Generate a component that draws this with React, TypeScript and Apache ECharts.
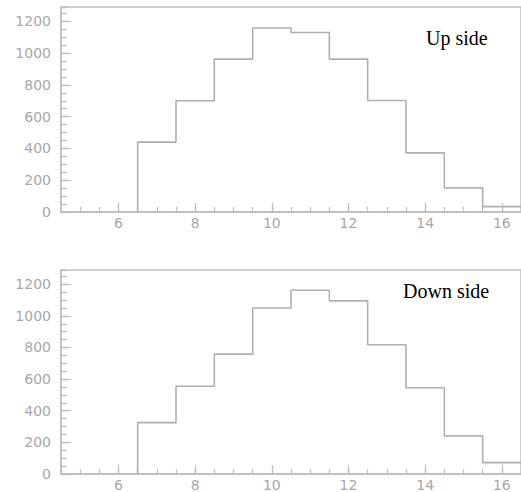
import React, { useEffect, useRef } from "react";
import * as echarts from "echarts";

const binCenters = [7, 8, 9, 10, 11, 12, 13, 14, 15, 16];
const upCounts = [440, 700, 962, 1158, 1130, 962, 702, 372, 152, 34];
const downCounts = [325, 555, 758, 1050, 1162, 1095, 817, 545, 241, 72];
const xTickLabels = [6, 8, 10, 12, 14, 16];
const yTickLabels = [0, 200, 400, 600, 800, 1000, 1200];
const panelTitles = ["Up side", "Down side"];

const AXIS = "#c0c0c0";
const LINE = "#b0b0b0";
const LABEL = "#a8a8a8";

function histPoints(counts: number[]) {
  const pts: number[][] = [[binCenters[0] - 0.5, 0]];
  counts.forEach((v, i) => pts.push([binCenters[i] - 0.5, v]));
  pts.push([binCenters[binCenters.length - 1] + 0.5, counts[counts.length - 1]]);
  return pts;
}

export default function App() {
  const ref = useRef<HTMLDivElement>(null);
  useEffect(() => {
    if (!ref.current) return;
    const chart = echarts.init(ref.current, null, { renderer: "svg" });
    const tops = [7, 270];
    const grids = tops.map((t) => ({
      left: 61,
      top: t,
      height: 205,
      right: -6,
      show: true,
      borderColor: AXIS,
      borderWidth: 1.5,
      backgroundColor: "transparent",
    }));
    const axisLine = { show: true, onZero: false, lineStyle: { color: AXIS, width: 1.5 } };
    const xAxes: any[] = [];
    const yAxes: any[] = [];
    [0, 1].forEach((g) => {
      xAxes.push({
        type: "value",
        gridIndex: g,
        position: "bottom",
        min: 4.5,
        max: 16.5,
        interval: 0.5,
        axisLine,
        splitLine: { show: false },
        axisTick: {
          show: true,
          inside: true,
          length: 9,
          lineStyle: { color: AXIS, width: 1.3 },
          customValues: xTickLabels,
        },
        axisLabel: {
          customValues: xTickLabels,
          formatter: (v: number) => String(v),
          color: LABEL,
          fontSize: 14,
          fontFamily: "DejaVu Sans",
          margin: 4,
        },
      });
      xAxes.push({
        type: "value",
        gridIndex: g,
        position: "bottom",
        min: 4.5,
        max: 16.5,
        interval: 0.5,
        axisLine,
        splitLine: { show: false },
        axisTick: { show: true, inside: true, length: 5, lineStyle: { color: AXIS, width: 1.3 } },
        axisLabel: { show: false },
      });
      yAxes.push({
        type: "value",
        gridIndex: g,
        position: "left",
        min: 0,
        max: 1290,
        interval: 200,
        axisLine,
        splitLine: { show: false },
        axisTick: {
          show: true,
          inside: true,
          length: 10,
          lineStyle: { color: AXIS, width: 1.3 },
          customValues: yTickLabels,
        },
        axisLabel: {
          customValues: yTickLabels,
          formatter: (v: number) => String(v),
          color: LABEL,
          fontSize: 14,
          fontFamily: "DejaVu Sans",
          margin: 10,
        },
      });
      yAxes.push({
        type: "value",
        gridIndex: g,
        position: "left",
        min: 0,
        max: 1290,
        interval: 50,
        axisLine,
        splitLine: { show: false },
        axisTick: { show: true, inside: true, length: 6, lineStyle: { color: AXIS, width: 1.3 } },
        axisLabel: { show: false },
      });
    });
    const series = [upCounts, downCounts].map((c, g) => ({
      type: "line",
      xAxisIndex: g * 2,
      yAxisIndex: g * 2,
      step: "end",
      symbol: "none",
      data: histPoints(c),
      lineStyle: { color: LINE, width: 1.6 },
      z: 3,
    }));
    chart.setOption({
      animation: false,
      backgroundColor: "#ffffff",
      grid: grids,
      xAxis: xAxes,
      yAxis: yAxes,
      series,
      graphic: [
        {
          type: "text",
          left: 426,
          top: 28,
          style: { text: panelTitles[0], font: "20px 'Liberation Serif', serif", fill: "#000" },
        },
        {
          type: "text",
          left: 403,
          top: 281,
          style: { text: panelTitles[1], font: "20px 'Liberation Serif', serif", fill: "#000" },
        },
      ],
    });
    return () => chart.dispose();
  }, []);
  return (
    <div
      ref={ref}
      style={{ position: "absolute", left: 0, top: 0, width: 521, height: 492, background: "#fff" }}
    />
  );
}
